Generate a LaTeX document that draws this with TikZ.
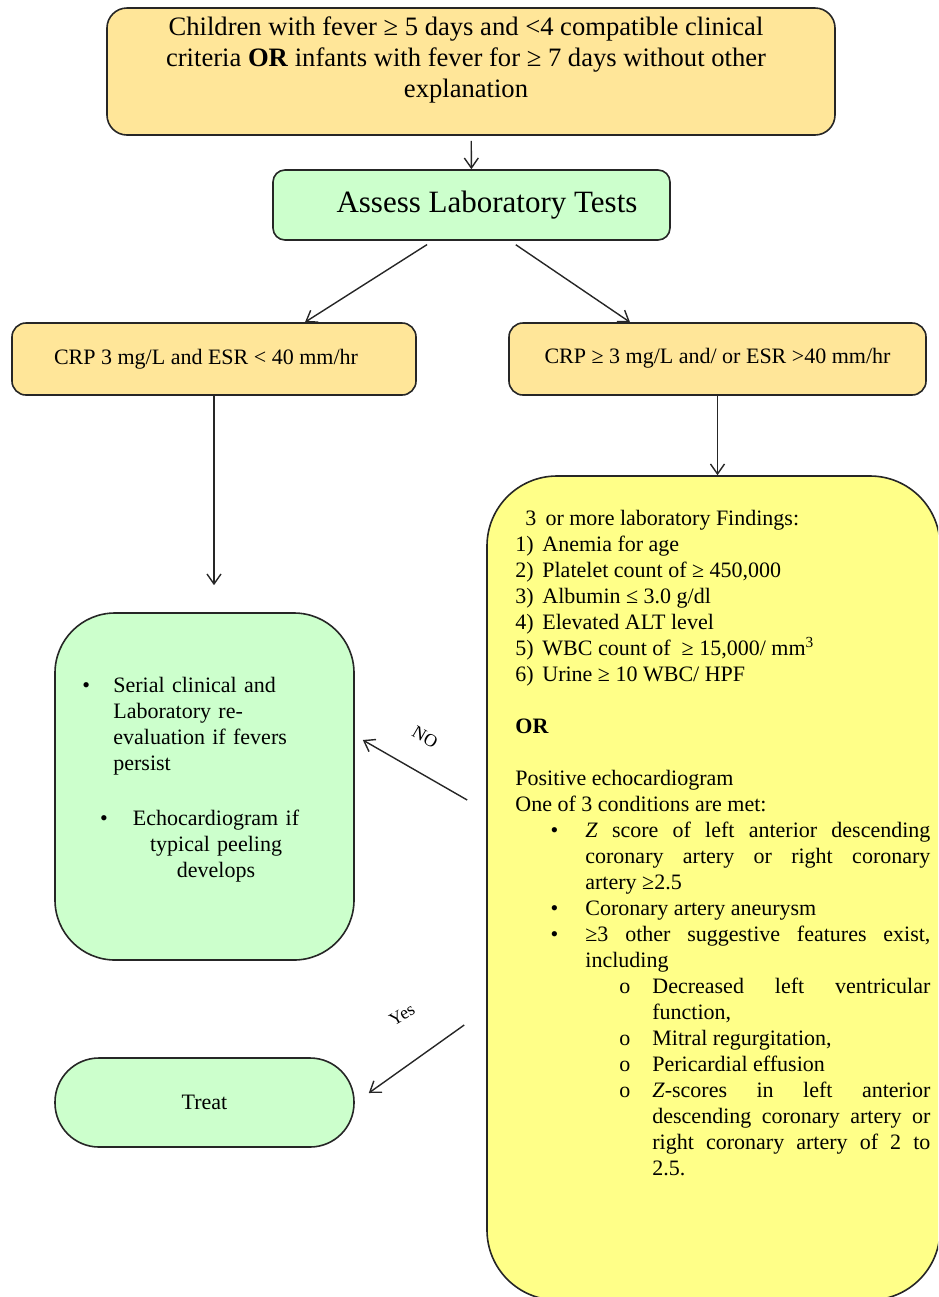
\documentclass[tikz,border=0pt]{standalone}
\usepackage{fontspec}
\setmainfont{Liberation Serif}
\usepackage{tikz}
\usetikzlibrary{arrows.meta,positioning}
\definecolor{orangec}{HTML}{FFE699}
\definecolor{greenc}{HTML}{CCFFCC}
\definecolor{yellowc}{HTML}{FFFF88}
\definecolor{linec}{HTML}{262626}
\tikzset{
  basenode/.style={rectangle, rounded corners=10pt, draw=linec, line width=0.8pt,
    inner sep=0pt, font=\fontsize{11}{13}\selectfont},
  orangenode/.style={basenode, fill=orangec},
  greennode/.style={basenode, fill=greenc},
  yellownode/.style={basenode, fill=yellowc},
  textblock/.style={inner sep=0pt, font=\fontsize{11}{13}\selectfont},
  normaledge/.style={-{Straight Barb[length=5pt,width=7pt]}, draw=black!85, line width=0.7pt},
  edgelabel/.style={inner sep=1pt, font=\fontsize{9}{10}\selectfont},
}

\begin{document}
\begin{tikzpicture}[x=0.5pt, y=-0.5pt]
  \useasboundingbox (0,0) rectangle (938,1297);
  \clip (0,0) rectangle (938,1297);
  % boxes
  \node[orangenode, rounded corners=10pt, minimum width=364pt, minimum height=63.5pt] (top) at (471,71.5) {};
  \node[textblock, font=\fontsize{13.3}{15.5}\selectfont, align=center] (toptx) at (466,60)
    {Children with fever ≥ 5 days and <4 compatible clinical\\
     criteria \textbf{OR} infants with fever for ≥ 7 days without other\\
     explanation};
  \node[greennode, rounded corners=6pt, minimum width=198.5pt, minimum height=35pt,
    font=\fontsize{15.5}{18}\selectfont] (assess) at (471.5,205) {\hspace*{15.5pt}Assess Laboratory Tests};
  \node[orangenode, rounded corners=7pt, minimum width=202pt, minimum height=36pt] (crpl) at (214,359)
    {\raisebox{2pt}{CRP 3 mg/L and ESR < 40 mm/hr}\hspace*{8pt}};
  \node[orangenode, rounded corners=7pt, minimum width=208.5pt, minimum height=36pt] (crpr) at (717.5,359)
    {\raisebox{3.5pt}{CRP ≥ 3 mg/L and/ or ESR >40 mm/hr}};
  \node[yellownode, rounded corners=35pt, minimum width=226.5pt, minimum height=412pt] (findings) at (713.5,888) {};
  \node[greennode, rounded corners=30pt, minimum width=149.5pt, minimum height=173.5pt] (serial) at (204.5,786.5) {};
  \node[greennode, rounded corners=22pt, minimum width=149.5pt, minimum height=44.5pt] (treat) at (204.5,1102.5) {Treat};
  % texts inside the big boxes
  \node[textblock, anchor=north west, align=left, text width=120pt] (serialtx) at (82,677)
    {\makebox[15.5pt][l]{\textbullet}Serial clinical and\\
     \hspace*{15.5pt}Laboratory re-\\
     \hspace*{15.5pt}evaluation if fevers\\
     \hspace*{15.5pt}persist};
  \node[textblock, align=center, text width=86pt] (echotx) at (216,846)
    {\llap{\textbullet\hspace{12.5pt}}Echocardiogram if\\typical peeling\\develops};
  \node[textblock, anchor=north west, align=justify, text width=207.5pt] (findtx) at (515,510)
    {\hspace*{5pt}3 \,or more laboratory Findings:\par
     \makebox[13.5pt][l]{1)}Anemia for age\par
     \makebox[13.5pt][l]{2)}Platelet count of ≥ 450,000\par
     \makebox[13.5pt][l]{3)}Albumin ≤ 3.0 g/dl\par
     \makebox[13.5pt][l]{4)}Elevated ALT level\par
     \makebox[13.5pt][l]{5)}WBC count of \ ≥ 15,000/ mm\textsuperscript{3}\par
     \makebox[13.5pt][l]{6)}Urine ≥ 10 WBC/ HPF\par
     \mbox{}\par
     \textbf{OR}\par
     \mbox{}\par
     Positive echocardiogram\par
     One of 3 conditions are met:
     \begin{list}{\textbullet}{\setlength\leftmargin{35pt}\setlength\labelsep{13.5pt}%
       \setlength\labelwidth{10pt}\setlength\topsep{0pt}\setlength\partopsep{0pt}%
       \setlength\itemsep{0pt}\setlength\parsep{0pt}}
     \item \textit{Z} score of left anterior descending\linebreak coronary artery or right coronary\linebreak artery ≥2.5
     \item Coronary artery aneurysm
     \item ≥3 other suggestive features exist,\linebreak including
       \begin{list}{o}{\setlength\leftmargin{33.5pt}\setlength\labelsep{11pt}%
         \setlength\labelwidth{10pt}\setlength\topsep{0pt}\setlength\partopsep{0pt}%
         \setlength\itemsep{0pt}\setlength\parsep{0pt}}
       \item Decreased left ventricular\linebreak function,
       \item Mitral regurgitation,
       \item Pericardial effusion
       \item \textit{Z}-scores in left anterior\linebreak descending coronary artery or\linebreak right coronary artery of 2 to\linebreak 2.5.
       \end{list}
     \end{list}};
  % connectors
  \draw[normaledge, shorten <=2.5pt] (top) -- (assess);
  \draw[normaledge, shorten <=3.5pt] ([xshift=-19.25pt]assess.south) -- ([xshift=45.5pt]crpl.north);
  \draw[normaledge, shorten <=3.5pt] ([xshift=19.25pt]assess.south) -- ([xshift=-43.75pt]crpr.north);
  \draw[normaledge] (crpl.south) -- ([yshift=13.5pt]crpl.south |- serial.north);
  \draw[normaledge] (crpr.south) -- (crpr.south |- findings.north);
  \draw[normaledge] ([shift={(-19,-88)}]findings.west) -- ([shift={(8,-46.5)}]serial.east);
  \draw[normaledge] ([shift={(-22,137)}]findings.west) -- ([shift={(14,-9.5)}]treat.east);
  \node[edgelabel, rotate=-30] (nolbl) at (425,737) {NO};
  \node[edgelabel, rotate=30] (yeslbl) at (402,1015) {Yes};
\end{tikzpicture}
\end{document}
